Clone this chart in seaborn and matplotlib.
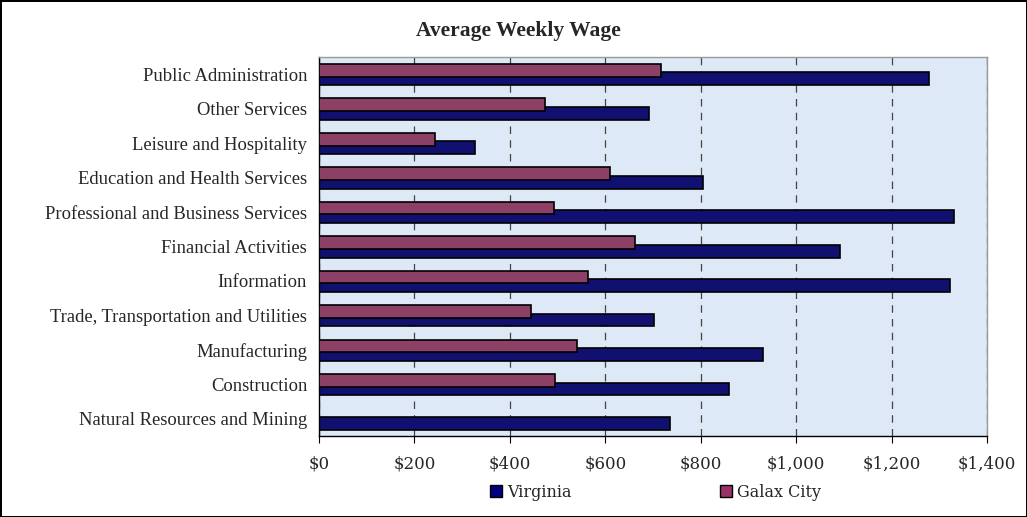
import numpy as np
import pandas as pd
import matplotlib
matplotlib.use("Agg")
import matplotlib.pyplot as plt
from matplotlib.patches import Patch
from matplotlib.ticker import FuncFormatter
import seaborn as sns

industries = ["Public Administration", "Other Services", "Leisure and Hospitality",
              "Education and Health Services", "Professional and Business Services",
              "Financial Activities", "Information", "Trade, Transportation and Utilities",
              "Manufacturing", "Construction", "Natural Resources and Mining"]
virginia = [1278, 691, 327, 805, 1331, 1091, 1322, 702, 931, 860, 735]
galax = [716, 474, 243, 610, 493, 663, 564, 444, 540, 495, np.nan]
series_names = ["Virginia", "Galax City"]
x_ticks = [0, 200, 400, 600, 800, 1000, 1200, 1400]

sns.set_style("white")
plt.rcParams["font.family"] = ["Liberation Serif", "DejaVu Serif"]

# long table for seaborn, Galax has no value for mining so drop it
df = pd.concat([
    pd.DataFrame({"industry": industries, "series": "Virginia", "wage": virginia}),
    pd.DataFrame({"industry": industries, "series": "Galax City", "wage": galax}),
]).dropna()

colors = {"Virginia": "#000080", "Galax City": "#993366"}

fig = plt.figure(figsize=(10.27, 5.17), dpi=100)
fig.patch.set_edgecolor("black")
fig.patch.set_linewidth(2)
ax = fig.add_axes([0.3106, 0.1567, 0.6505, 0.7331])
ax.set_facecolor("#dde9f6")

sns.barplot(data=df, y="industry", x="wage", hue="series", order=industries,
            hue_order=["Galax City", "Virginia"], palette=colors, orient="h",
            width=0.74, edgecolor="black", linewidth=1.2, ax=ax, legend=False)

# excel style overlap: pull the two bars together, galax drawn on top
for bar in ax.containers[0]:
    bar.set_y(bar.get_y() + 0.07)
    bar.set_zorder(3)
for bar in ax.containers[1]:
    bar.set_y(bar.get_y() - 0.05)
    bar.set_zorder(2)

ax.set_xlim(0, 1400)
ax.set_ylim(len(industries) - 0.5, -0.5)
ax.set_xticks(x_ticks)
ax.xaxis.set_major_formatter(FuncFormatter(lambda v, p: "${:,.0f}".format(v)))
ax.grid(axis="x", color="#444444", linestyle=(0, (6, 5)), linewidth=0.9)
ax.set_axisbelow(True)

ax.set_yticks(np.arange(-0.5, len(industries), 1), minor=True)
ax.tick_params(axis="y", which="major", length=0, pad=8.5, labelsize=13.4)
ax.tick_params(axis="y", which="minor", length=5, direction="out", color="black")
ax.tick_params(axis="x", length=5, direction="out", color="black", labelsize=12, pad=9)
for lab in ax.get_xticklabels():
    lab.set_family("DejaVu Serif")
ax.xaxis.set_ticks_position("bottom")
ax.set_xlabel("")
ax.set_ylabel("")

for s in ["left", "bottom"]:
    ax.spines[s].set_color("black")
    ax.spines[s].set_linewidth(1)
for s in ["top", "right"]:
    ax.spines[s].set_color("#999999")
    ax.spines[s].set_linewidth(1)

fig.text(0.505, 0.94, "Average Weekly Wage", ha="center", va="center",
         fontsize=15.5, fontweight="bold")

handles = [Patch(facecolor=colors[n], edgecolor="black", linewidth=1) for n in series_names]
fig.legend(handles, series_names, loc="center", bbox_to_anchor=(0.638, 0.048), ncol=2,
           frameon=False, prop={"family": "DejaVu Serif", "size": 11.5},
           handlelength=0.75, handleheight=0.75, handletextpad=0.3, columnspacing=9.3)

fig.savefig("out.png", dpi=100, edgecolor=fig.get_edgecolor())
